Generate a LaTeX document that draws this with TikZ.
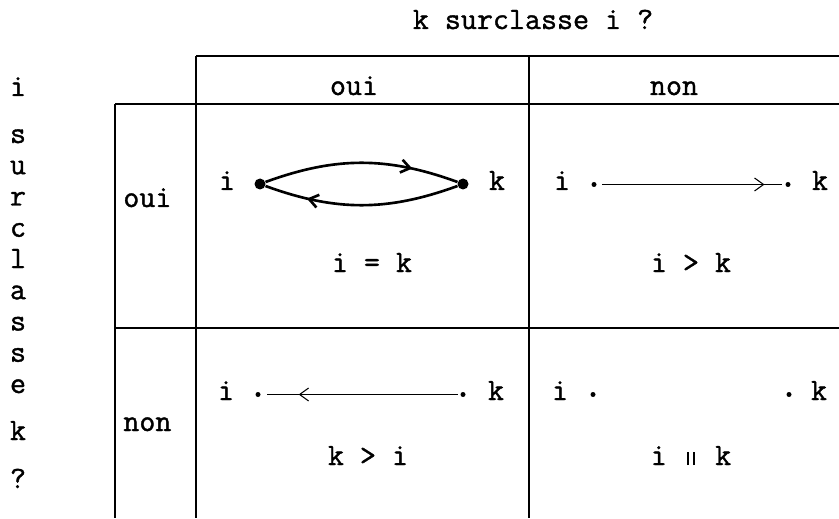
\documentclass[tikz,border=0pt]{standalone}
\usepackage{fontspec}
\usepackage{tikz}
\usetikzlibrary{arrows.meta,decorations.markings}
\newfontfamily\twfamily[FakeBold=1.2]{Latin Modern Mono}
\newcommand{\tw}{\twfamily\fontsize{17.7pt}{20pt}\selectfont}
\newcommand{\parsym}{\makebox[0.525em]{\rule{0.07em}{0.42em}\hspace{0.11em}\rule{0.07em}{0.42em}}}

\tikzset{
    txt/.style={anchor=base,inner sep=0pt,font=\tw},
    grid/.style={line width=1pt},
    bigdot/.style={circle,fill,inner sep=0pt,minimum size=0.22cm},
    smalldot/.style={circle,fill,inner sep=0pt,minimum size=0.1cm},
    thinline/.style={line width=0.6pt},
    barb/.style={postaction={decorate},decoration={markings,
        mark=at position #1 with {\arrow{Straight Barb[length=0.18cm,width=0.26cm]}}}},
}

\begin{document}
\begin{tikzpicture}
    \useasboundingbox (0,0) rectangle (16.78,10.36);

    % Table lines
    \draw [grid] (3.92,9.24) to (16.78,9.24);
    \draw [grid] (2.3,8.28) to (16.78,8.28);
    \draw [grid] (2.3,3.8) to (16.78,3.8);
    \draw [grid] (2.3,8.28) to (2.3,0);
    \draw [grid] (3.92,9.24) to (3.92,0);
    \draw [grid] (10.58,9.24) to (10.58,0);

    % Titles & headers
    \node (Top) at (10.66,9.78) [txt] {k surclasse i ?};
    \node (TopOui) at (7.08,8.46) [txt] {oui};
    \node (TopNon) at (13.48,8.46) [txt] {non};
    \node (LeftOui) at (2.46,6.22) [txt,anchor=base west] {oui};
    \node (LeftNon) at (2.46,1.74) [txt,anchor=base west] {non};

    % Vertical title
    \node (Vi) at (0.36,8.44) [txt] {i};
    \foreach \c [count=\n] in {s,u,r,c,l,a,s,s,e}
        \node (V\n) at (0.36,{8.125-0.625*\n}) [txt] {\c};
    \node (Vk) at (0.36,1.56) [txt] {k};
    \node (Vq) at (0.36,0.6) [txt] {?};

    % Cell oui / oui
    \node (Ia) at (4.54,6.56) [txt] {i};
    \node (Ka) at (9.94,6.56) [txt] {k};
    \node (dIa) at (5.2,6.68) [bigdot] {};
    \node (dKa) at (9.26,6.68) [bigdot] {};
    \draw [line width=1.5pt,barb=0.76] (dIa) to [bend left=20] (dKa);
    \draw [line width=1.5pt,barb=0.78] (dKa) to [bend left=20] (dIa);
    \node (Ra) at (7.44,4.92) [txt] {i = k};

    % Cell oui / non
    \node (Ib) at (11.24,6.56) [txt] {i};
    \node (Kb) at (16.4,6.56) [txt] {k};
    \node (dIb) at (11.88,6.67) [smalldot] {};
    \node (dKb) at (15.76,6.67) [smalldot] {};
    \draw [thinline,barb=0.89,shorten <=0.11cm,shorten >=0.07cm] (dIb) to (dKb);
    \node (Rb) at (13.82,4.92) [txt] {i > k};

    % Cell non / oui
    \node (Ic) at (4.52,2.36) [txt] {i};
    \node (Kc) at (9.92,2.36) [txt] {k};
    \node (dIc) at (5.16,2.47) [smalldot] {};
    \node (dKc) at (9.26,2.47) [smalldot] {};
    \draw [thinline,barb=0.81,shorten <=0.05cm,shorten >=0.13cm] (dKc) to (dIc);
    \node (Rc) at (7.36,1.06) [txt] {k > i};

    % Cell non / non
    \node (Id) at (11.2,2.36) [txt] {i};
    \node (Kd) at (16.38,2.36) [txt] {k};
    \node (dId) at (11.86,2.47) [smalldot] {};
    \node (dKd) at (15.78,2.47) [smalldot] {};
    \node (Rd) at (13.82,1.06) [txt] {i \parsym{} k};
\end{tikzpicture}
\end{document}
